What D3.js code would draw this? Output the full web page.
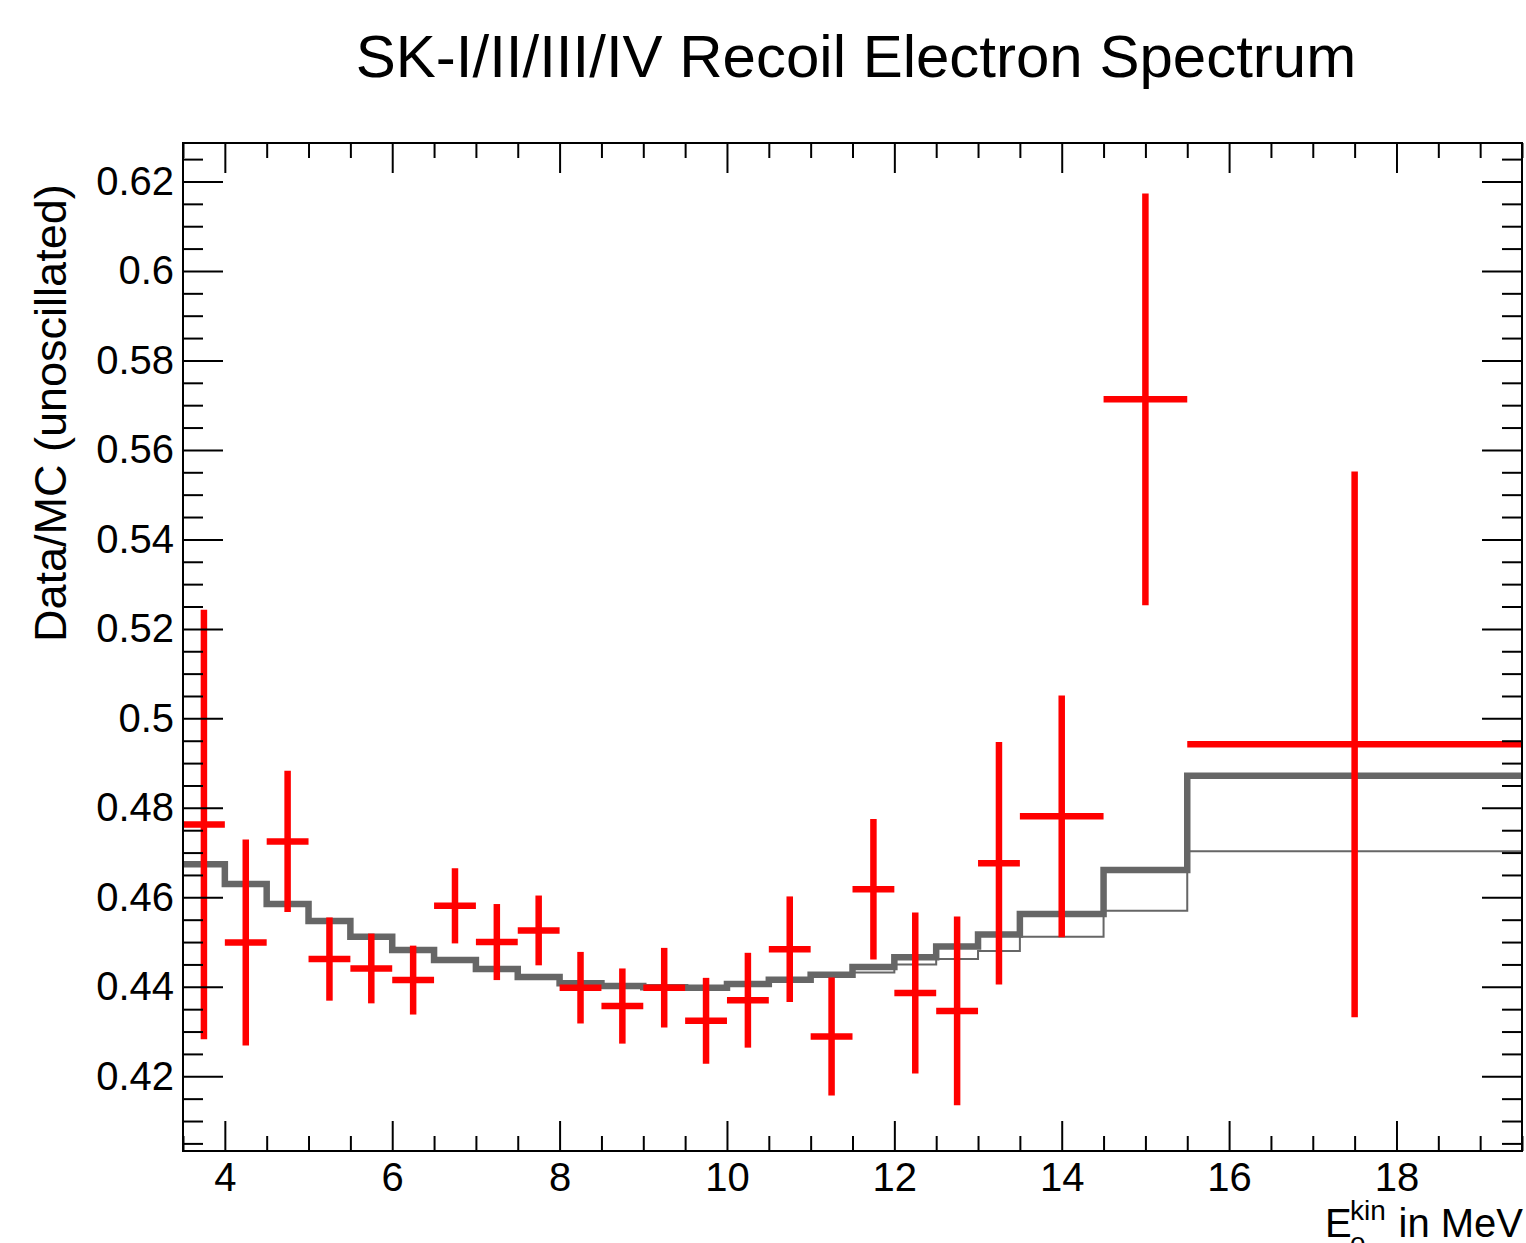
<!DOCTYPE html>
<html lang="en">
<head>
<meta charset="UTF-8">
<title>SK-I/II/III/IV Recoil Electron Spectrum</title>
<script src="https://d3js.org/d3.v7.min.js"></script>
<style>
    body { margin: 0; background: #fff; }
    svg { font-family: "Liberation Sans", Arial, Helvetica, sans-serif; }
    .axis .domain { display: none; }
    .axis line { stroke: #000; stroke-width: 2px; }
    .axis text { font-size: 40px; fill: #000; }
</style>
</head>
<body>
<svg id="chart" width="1526" height="1243"></svg>
<script>
    // bin edges in MeV (kinetic energy of recoil electron)
    const binEdges = [3.5, 4, 4.5, 5, 5.5, 6, 6.5, 7, 7.5, 8, 8.5, 9, 9.5, 10, 10.5,
        11, 11.5, 12, 12.5, 13, 13.5, 14.5, 15.5, 19.5];

    // data / MC ratio and its error per bin
    const dataValues = [0.4763, 0.4499, 0.4725, 0.4462, 0.4441, 0.4415, 0.4581, 0.4500,
        0.4526, 0.4398, 0.4357, 0.4398, 0.4324, 0.4370, 0.4484, 0.4289, 0.4618, 0.4386,
        0.4346, 0.4676, 0.4781, 0.5713, 0.4942];
    const dataErrors = [0.0480, 0.0230, 0.0158, 0.0093, 0.0078, 0.0077, 0.0084, 0.0085,
        0.0078, 0.0080, 0.0084, 0.0089, 0.0096, 0.0106, 0.0118, 0.0132, 0.0157, 0.0180,
        0.0211, 0.0271, 0.0270, 0.0460, 0.0610];

    // predictions (thick and thin histograms)
    const thickModel = [0.4674, 0.4630, 0.4585, 0.4547, 0.4512, 0.4482, 0.4460, 0.4440,
        0.4422, 0.4408, 0.4402, 0.4399, 0.4398, 0.4406, 0.4416, 0.4427, 0.4444, 0.4466,
        0.4490, 0.4517, 0.4563, 0.4661, 0.4872];
    const thinModel = [0.4674, 0.4630, 0.4585, 0.4547, 0.4512, 0.4482, 0.4460, 0.4440,
        0.4422, 0.4408, 0.4402, 0.4399, 0.4398, 0.4406, 0.4414, 0.4423, 0.4432, 0.4450,
        0.4462, 0.4480, 0.4512, 0.4570, 0.4703];

    const xMajorTicks = [4, 6, 8, 10, 12, 14, 16, 18];
    const yMajorTicks = [0.42, 0.44, 0.46, 0.48, 0.5, 0.52, 0.54, 0.56, 0.58, 0.6, 0.62];

    const svg = d3.select('#chart');
    const frame = { left: 183, right: 1522, top: 143, bottom: 1151 };

    const x = d3.scaleLinear().domain([3.5, 19.5]).range([frame.left, frame.right]);
    const y = d3.scaleLinear().domain([0.4033, 0.6286]).range([frame.bottom, frame.top]);

    const xMinor = d3.range(3.5, 19.51, 0.5).filter(v => xMajorTicks.indexOf(v) < 0);
    const yMinor = d3.range(0.405, 0.6286, 0.005).filter(v => !yMajorTicks.some(t => Math.abs(t - v) < 1e-6));

    // title
    svg.append('text')
        .attr('x', 856)
        .attr('y', 77)
        .attr('text-anchor', 'middle')
        .style('font-size', '60px')
        .text('SK-I/II/III/IV Recoil Electron Spectrum');

    svg.append('defs').append('clipPath').attr('id', 'clip')
        .append('rect')
        .attr('x', frame.left).attr('y', frame.top)
        .attr('width', frame.right - frame.left)
        .attr('height', frame.bottom - frame.top);

    let plot = svg.append('g').attr('clip-path', 'url(#clip)');

    // histograms as steps
    function stepPoints(vals) {
        let pts = vals.map((v, i) => [binEdges[i], v]);
        pts.push([binEdges[binEdges.length - 1], vals[vals.length - 1]]);
        return pts;
    }
    const stepLine = d3.line()
        .x(d => x(d[0]))
        .y(d => y(d[1]))
        .curve(d3.curveStepAfter);

    plot.append('path')
        .datum(stepPoints(thinModel))
        .attr('d', stepLine)
        .attr('fill', 'none')
        .attr('stroke', '#666666')
        .attr('stroke-width', 2);

    plot.append('path')
        .datum(stepPoints(thickModel))
        .attr('d', stepLine)
        .attr('fill', 'none')
        .attr('stroke', '#666666')
        .attr('stroke-width', 6.5);

    // data points with error crosses
    let points = dataValues.map((v, i) => ({
        lo: binEdges[i], hi: binEdges[i + 1], v: v, err: dataErrors[i]
    }));

    let crosses = plot.selectAll('g.point')
        .data(points)
        .join('g')
        .attr('class', 'point');

    crosses.append('line')
        .attr('x1', d => x(d.lo))
        .attr('x2', d => x(d.hi))
        .attr('y1', d => y(d.v))
        .attr('y2', d => y(d.v))
        .attr('stroke', '#ff0000')
        .attr('stroke-width', 6.5);

    crosses.append('line')
        .attr('x1', d => x((d.lo + d.hi) / 2))
        .attr('x2', d => x((d.lo + d.hi) / 2))
        .attr('y1', d => y(d.v - d.err))
        .attr('y2', d => y(d.v + d.err))
        .attr('stroke', '#ff0000')
        .attr('stroke-width', 6.5);

    // axes: bottom/left with labels, top/right mirrored
    svg.append('g').attr('class', 'axis')
        .attr('transform', `translate(0,${frame.bottom})`)
        .call(d3.axisBottom(x).tickValues(xMajorTicks).tickSize(-30).tickPadding(12).tickFormat(d3.format('d')));
    svg.append('g').attr('class', 'axis')
        .attr('transform', `translate(0,${frame.bottom})`)
        .call(d3.axisBottom(x).tickValues(xMinor).tickSize(-15).tickFormat(''));
    svg.append('g').attr('class', 'axis')
        .attr('transform', `translate(0,${frame.top})`)
        .call(d3.axisTop(x).tickValues(xMajorTicks).tickSize(-30).tickFormat(''));
    svg.append('g').attr('class', 'axis')
        .attr('transform', `translate(0,${frame.top})`)
        .call(d3.axisTop(x).tickValues(xMinor).tickSize(-15).tickFormat(''));

    svg.append('g').attr('class', 'axis')
        .attr('transform', `translate(${frame.left},0)`)
        .call(d3.axisLeft(y).tickValues(yMajorTicks).tickSize(-40).tickPadding(9).tickFormat(d => String(+d.toFixed(2))));
    svg.append('g').attr('class', 'axis')
        .attr('transform', `translate(${frame.left},0)`)
        .call(d3.axisLeft(y).tickValues(yMinor).tickSize(-20).tickFormat(''));
    svg.append('g').attr('class', 'axis')
        .attr('transform', `translate(${frame.right},0)`)
        .call(d3.axisRight(y).tickValues(yMajorTicks).tickSize(-40).tickFormat(''));
    svg.append('g').attr('class', 'axis')
        .attr('transform', `translate(${frame.right},0)`)
        .call(d3.axisRight(y).tickValues(yMinor).tickSize(-20).tickFormat(''));

    // frame
    svg.append('rect')
        .attr('x', frame.left).attr('y', frame.top)
        .attr('width', frame.right - frame.left)
        .attr('height', frame.bottom - frame.top)
        .attr('fill', 'none')
        .attr('stroke', '#000')
        .attr('stroke-width', 2);

    // y title
    svg.append('text')
        .attr('transform', 'translate(66,642) rotate(-90)')
        .attr('text-anchor', 'start')
        .style('font-size', '45px')
        .text('Data/MC (unoscillated)');

    // x title: E_e^kin in MeV
    let xTitle = svg.append('g');
    xTitle.append('text').attr('x', 1325).attr('y', 1237).style('font-size', '40px').text('E');
    xTitle.append('text').attr('x', 1350).attr('y', 1220).style('font-size', '28px').text('kin');
    xTitle.append('text').attr('x', 1350).attr('y', 1252).style('font-size', '28px').text('e');
    xTitle.append('text').attr('x', 1523).attr('y', 1237).attr('text-anchor', 'end')
        .style('font-size', '40px').text('in MeV');
</script>
</body>
</html>
